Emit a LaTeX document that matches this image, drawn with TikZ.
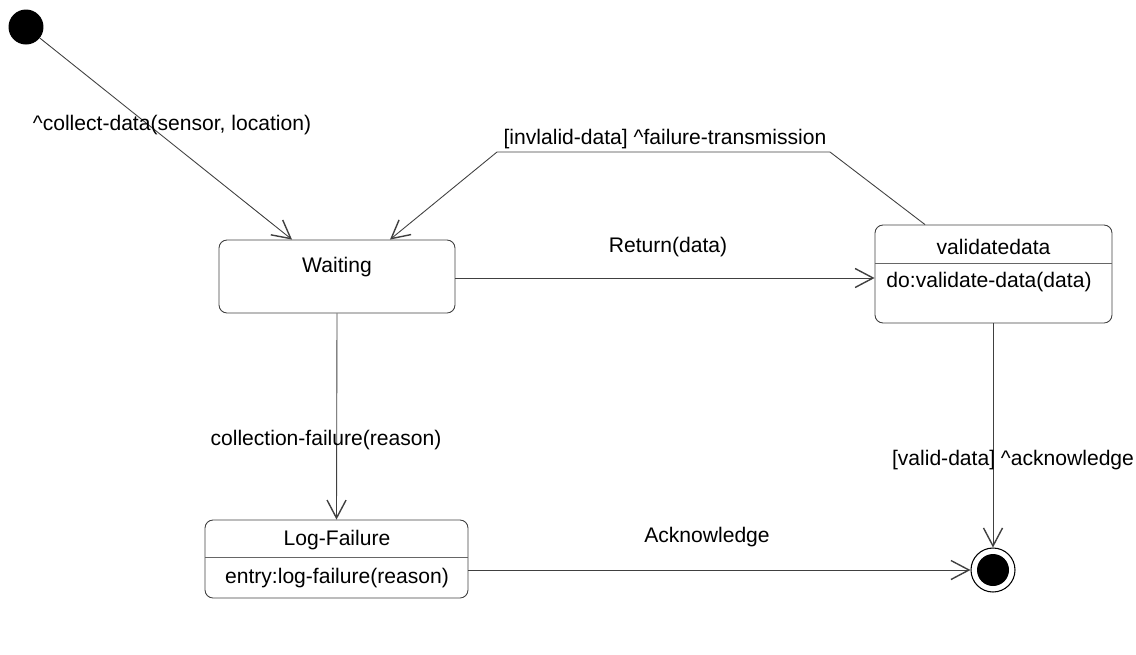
\documentclass[tikz,border=0pt]{standalone}
\usepackage{fontspec}
\setmainfont{Liberation Sans}
\usetikzlibrary{arrows.meta,calc}
\tikzset{
  statebox/.style={draw=black!75, line width=0.5pt, rounded corners=0.16cm, inner sep=0pt},
  txt/.style={inner sep=0pt, font=\fontsize{12}{14}\selectfont, text=black},
  trans/.style={draw=black!75, line width=0.5pt, -{Straight Barb[length=0.36cm,width=0.38cm,line width=0.8pt]}},
  plain/.style={draw=black!75, line width=0.5pt},
  divider/.style={draw=black!60, line width=0.5pt}
}
\begin{document}
\begin{tikzpicture}[x=0.02cm,y=-0.02cm]
\useasboundingbox (0,0) rectangle (1136,654);
% initial state
\node[circle, fill=black, minimum size=0.70cm, inner sep=0pt] (init) at (26,27) {};
% Waiting
\node[statebox, minimum width=4.72cm, minimum height=1.46cm] (waiting) at (337,276.5) {};
\node[txt] (waitingT) at (337,267) {Waiting};
% validatedata
\node[statebox, minimum width=4.74cm, minimum height=1.96cm] (valid) at (993.5,274) {};
\node[txt] (validT) at (993.5,247) {validatedata};
\node[txt] (validD) at (989,282) {do:validate-data(data)};
\coordinate (vdl) at (875,263);
\coordinate (vdr) at (1112,263);
\draw[divider] (vdl) -- (vdr);
% Log-Failure
\node[statebox, minimum width=5.26cm, minimum height=1.56cm] (logf) at (336.5,559) {};
\node[txt] (logfT) at (337,540) {Log-Failure};
\node[txt] (logfD) at (337,578) {entry:log-failure(reason)};
\coordinate (ldl) at (205,557);
\coordinate (ldr) at (468,557);
\draw[divider] (ldl) -- (ldr);
% final state
\node[circle, draw=black, line width=0.6pt, minimum size=0.88cm, inner sep=0pt] (final) at (993,570) {};
\node[circle, fill=black, minimum size=0.64cm, inner sep=0pt] (finalIn) at (993,570) {};
% transitions
\draw[trans] (init) -- ([xshift=-0.9cm]waiting.north);
\node[txt] (l1) at (172,125) {\^{}collect-data(sensor, location)};

\coordinate (c1) at (830,152);
\coordinate (c2) at (497,152);
\draw[trans] ([xshift=-1.37cm]valid.north) -- (c1) -- (c2) -- ([xshift=1.06cm]waiting.north);
\node[txt] (l2) at (665,139) {[invlalid-data] \^{}failure-transmission};

\draw[trans] (waiting.east |- 0,278) -- (valid.west |- 0,278);
\node[txt] (l3) at (668,247) {Return(data)};

\draw[trans] (waiting.south) -- (logf.north);
\node[txt] (l4) at (326,440) {collection-failure(reason)};

\draw[trans] (valid.south -| final) -- (final.north);
\node[txt] (l5) at (1013,460) {[valid-data] \^{}acknowledge};

\draw[trans] (logf.east |- final) -- (final.west);
\node[txt] (l6) at (707,537) {Acknowledge};
\end{tikzpicture}
\end{document}
